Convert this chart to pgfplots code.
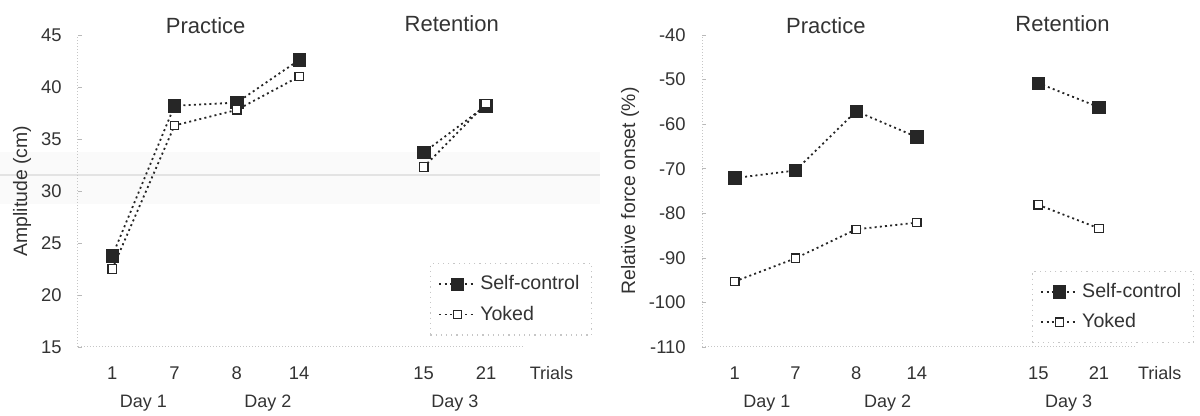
\documentclass[border=0pt]{standalone}
\usepackage{fontspec}
\setmainfont{Liberation Sans}
\usepackage{pgfplots}
\pgfplotsset{compat=1.18}

\definecolor{txt}{HTML}{333333}
\definecolor{ink}{HTML}{262626}

\pgfplotsset{
  panel/.style={
    scale only axis, anchor=south west, clip=false,
    height=156pt,
    xtick={0,1,2,3,5,6}, xticklabels={1,7,8,14,15,21},
    xtick style={draw=none},
    ytick style={draw=gray!55, line width=0.3pt}, major tick length=2pt,
    tick pos=left,
    axis line style={draw=none},
    /pgf/number format/assume math mode=true,
    tick label style={font=\fontsize{9.2}{11}\selectfont, text=txt},
    xticklabel style={anchor=base, yshift=-16.5pt},
    yticklabel style={anchor=east, inner sep=0pt, xshift=-8pt},
    unbounded coords=jump,
    legend cell align=left,
    legend style={draw=gray!45, dotted, line width=0.6pt, fill=white,
      font=\fontsize{9.8}{11}\selectfont, text=txt,
      inner xsep=4pt, inner ysep=4pt, row sep=2.5pt,
      anchor=north west},
    legend image code/.code={%
      \draw[mark repeat=2, mark phase=2, #1]
        plot coordinates {(0pt,0pt) (9pt,0pt) (18pt,0pt)};},
  },
  sc/.style={ink, line width=0.9pt, dash pattern=on 1pt off 1.6pt,
    mark=square*, mark size=3.1pt,
    mark options={solid, fill=ink, draw=ink, line width=0.4pt}},
  yk/.style={ink, line width=0.9pt, dash pattern=on 1pt off 1.6pt,
    mark=square*, mark size=2.1pt,
    mark options={solid, fill=white, draw=ink, line width=0.6pt}},
}

\newcommand\titlefont{\fontsize{11}{13}\selectfont}
\newcommand\dayfont{\fontsize{9}{11}\selectfont}
\newcommand\labfont{\fontsize{9.7}{11}\selectfont}

\begin{document}
\begin{tikzpicture}
\path[use as bounding box] (0pt,0pt) rectangle (600pt,208pt);

% faint grey band left by the photocopy
\fill[gray!4] (0pt,106pt) rectangle (300pt,132pt);
\draw[gray!22, line width=0.8pt] (0pt,120.5pt) -- (300pt,120.5pt);

% ---------------- Amplitude ----------------
\begin{axis}[panel,
  at={(39pt,34.5pt)}, width=222.7pt,
  xmin=-0.55, xmax=6.6, ymin=15, ymax=45,
  ytick={15,20,25,30,35,40,45},
  legend style={at={(0.79,0.269)}},
]
\draw[gray!45, densely dotted, line width=0.5pt] (axis cs:-0.55,15) -- (axis cs:-0.55,45);
\draw[gray!45, densely dotted, line width=0.5pt] (axis cs:-0.55,15) -- (axis cs:6.6,15);

\addplot[sc] coordinates {(0,23.75) (1,38.2) (2,38.5) (3,42.6) (4,nan) (5,33.7) (6,38.2)};
\addlegendentry{Self-control}
\addplot[yk] coordinates {(0,22.5) (1,36.3) (2,37.8) (3,41.0) (4,nan) (5,32.3) (6,38.4)};
\addlegendentry{Yoked}

\node[font=\titlefont, text=txt] at (axis cs:1.5,45) [yshift=4.5pt] {Practice};
\node[font=\titlefont, text=txt] at (axis cs:5.45,45) [yshift=5.5pt] {Retention};
\node[font=\dayfont, text=txt, anchor=base] at (axis cs:7.05,15) [yshift=-16.5pt] {Trials};
\node[font=\dayfont, text=txt, anchor=base] at (axis cs:0.5,15) [yshift=-30.5pt] {Day 1};
\node[font=\dayfont, text=txt, anchor=base] at (axis cs:2.5,15) [yshift=-30.5pt] {Day 2};
\node[font=\dayfont, text=txt, anchor=base] at (axis cs:5.5,15) [yshift=-30.5pt] {Day 3};
\node[font=\labfont, text=txt, rotate=90] at ([xshift=-28pt]axis description cs:0,0.5) {Amplitude (cm)};
\end{axis}

% ---------------- Relative force onset ----------------
\begin{axis}[panel,
  at={(351pt,34.5pt)}, width=216.7pt,
  xmin=-0.54, xmax=6.6, ymin=-110, ymax=-40,
  ytick={-110,-100,-90,-80,-70,-60,-50,-40},
  legend style={at={(0.761,0.244)}},
]
\draw[gray!45, densely dotted, line width=0.5pt] (axis cs:-0.54,-110) -- (axis cs:-0.54,-40);
\draw[gray!45, densely dotted, line width=0.5pt] (axis cs:-0.54,-110) -- (axis cs:6.6,-110);

\addplot[sc] coordinates {(0,-72.1) (1,-70.4) (2,-57.1) (3,-62.9) (4,nan) (5,-50.8) (6,-56.2)};
\addlegendentry{Self-control}
\addplot[yk] coordinates {(0,-95.3) (1,-90.1) (2,-83.6) (3,-82.1) (4,nan) (5,-78.1) (6,-83.4)};
\addlegendentry{Yoked}

\node[font=\titlefont, text=txt] at (axis cs:1.5,-40) [yshift=4.5pt] {Practice};
\node[font=\titlefont, text=txt] at (axis cs:5.4,-40) [yshift=5.5pt] {Retention};
\node[font=\dayfont, text=txt, anchor=base] at (axis cs:7.0,-110) [yshift=-16.5pt] {Trials};
\node[font=\dayfont, text=txt, anchor=base] at (axis cs:0.53,-110) [yshift=-30.5pt] {Day 1};
\node[font=\dayfont, text=txt, anchor=base] at (axis cs:2.52,-110) [yshift=-30.5pt] {Day 2};
\node[font=\dayfont, text=txt, anchor=base] at (axis cs:5.5,-110) [yshift=-30.5pt] {Day 3};
\node[font=\labfont, text=txt, rotate=90] at ([xshift=-36pt]axis description cs:0,0.5) {Relative force onset (\%)};
\end{axis}
\end{tikzpicture}
\end{document}
